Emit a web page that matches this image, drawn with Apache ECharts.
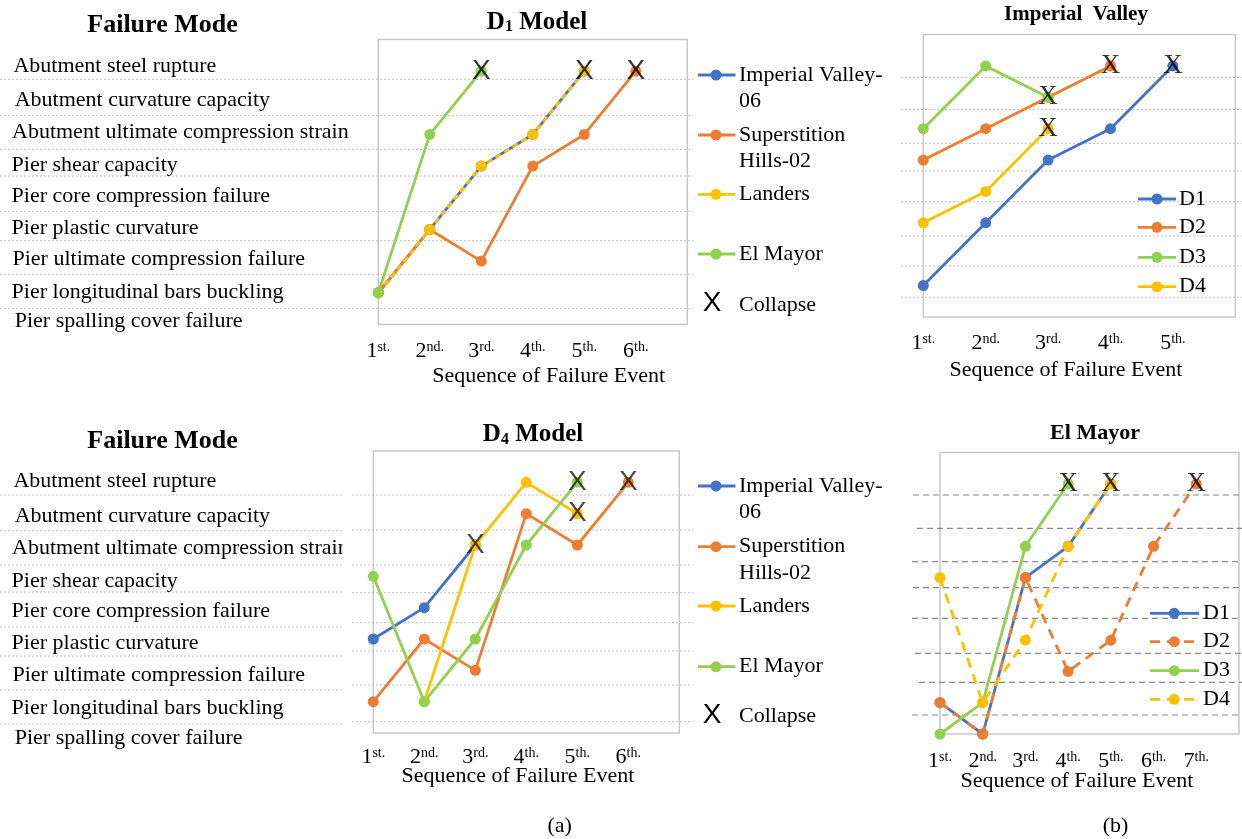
<!DOCTYPE html>
<html><head><meta charset="utf-8">
<script src="https://cdn.jsdelivr.net/npm/echarts@6/dist/echarts.min.js"></script>
<style>html,body{margin:0;padding:0;background:#fff}#c{width:1242px;height:839px}</style>
</head><body><div id="c"></div>
<script>
// ---------------- data ----------------
const failureModes = ['Abutment steel rupture','Abutment curvature capacity','Abutment ultimate compression strain','Pier shear capacity','Pier core compression failure','Pier plastic curvature','Pier ultimate compression failure','Pier longitudinal bars buckling','Pier spalling cover failure'];
const seq7 = ['1st.','2nd.','3rd.','4th.','5th.','6th.',''];
const seq6 = ['1st.','2nd.','3rd.','4th.','5th.',''];
const seq8 = ['1st.','2nd.','3rd.','4th.','5th.','6th.','7th.',''];
const quakeNames = ['Imperial Valley-06','Superstition Hills-02','Landers','El Mayor'];
const modelNames = ['D1','D2','D3','D4'];
// D1 model (level index: 0 = Pier spalling cover failure ... 8 = Abutment steel rupture)
const d1_IV = [1,3,5,6,8,null,null];
const d1_SH = [1,3,2,5,6,8,null];
const d1_LA = [1,3,5,6,8,null,null];
const d1_EM = [1,6,8,null,null,null,null];
const d1_collapse = [[2,8],[4,8],[5,8]];
// D4 model
const d4_IV = [3,4,6,null,null,null,null];
const d4_SH = [1,3,2,7,6,8,null];
const d4_LA = [null,1,6,8,7,null,null];
const d4_EM = [5,1,3,6,8,null,null];
const d4_collapse = [[2,6],[4,8],[4,7],[5,8]];
// Imperial Valley
const iv_D1 = [1,3,5,6,8,null];
const iv_D2 = [5,6,7,8,null,null];
const iv_D3 = [6,8,7,null,null,null];
const iv_D4 = [3,4,6,null,null,null];
const iv_collapse = [[2,7],[2,6],[3,8],[4,8]];
// El Mayor
const em_D1 = [1,0,5,6,8,null,null,null];
const em_D2 = [1,0,5,2,3,6,8,null];
const em_D3 = [0,1,6,8,null,null,null,null];
const em_D4 = [5,1,3,6,8,null,null,null];
const em_collapse = [[3,8],[4,8],[6,8]];

// ---------------- styles ----------------
const FONT = "'Liberation Serif','Times New Roman',serif";
const SANS = "'Liberation Sans',Arial,sans-serif";
const FS = 22;
const C = {blue:'#4472C4', orange:'#ED7D31', yellow:'#FFC000', green:'#92D050'};
const quakeColors = [C.blue, C.orange, C.yellow, C.green];
const modelColors = [C.blue, C.orange, C.green, C.yellow];

const grids = [
  {left:378.3, top:39.5, width:309, height:284.9},   // D1 model
  {left:373.3, top:451, width:306, height:282},      // D4 model
  {left:923.3, top:34.5, width:312, height:282.5},   // Imperial Valley
  {left:940, top:452.5, width:306.6, height:281.5}   // El Mayor
];
const labelMargins = [16, 13, 15, 16];
const cats = [seq7, seq7, seq6, seq8];

function seqFmt(v){ if(!v) return ''; return '{n|'+v[0]+'}{s|'+v.slice(1)+'}'; }

const xAxis = cats.map((c,i)=>({
  type:'category', gridIndex:i, data:c, boundaryGap:false,
  axisLine:{show:false}, axisTick:{show:false}, splitLine:{show:false},
  axisLabel:{interval:0, margin:labelMargins[i], formatter:seqFmt,
    rich:{n:{fontSize:FS, fontFamily:FONT, color:'#000'},
          s:{fontSize:14, fontFamily:FONT, color:'#000', verticalAlign:'top'}}}
}));
const yAxis = grids.map((g,i)=>({type:'value', gridIndex:i, min:0, max:9, show:false}));

function lineSeries(name, data, gi, color, dash){
  return {name, type:'line', xAxisIndex:gi, yAxisIndex:gi, data,
    symbol:'circle', symbolSize:11, showSymbol:true,
    lineStyle:{width:2.8, color, type: dash || 'solid'}, itemStyle:{color},
    connectNulls:false, silent:true};
}
function collapseSeries(data, gi, font, size, color){
  return {name:'Collapse', type:'scatter', xAxisIndex:gi, yAxisIndex:gi, data,
    symbol:'circle', symbolSize:1, itemStyle:{color:'rgba(0,0,0,0)'}, z:10, silent:true,
    label:{show:true, position:'inside', formatter:'X', fontSize:size, fontFamily:font, color}};
}

const series = [
  lineSeries(quakeNames[0], d1_IV, 0, C.blue),
  lineSeries(quakeNames[1], d1_SH, 0, C.orange),
  lineSeries(quakeNames[2], d1_LA, 0, C.yellow, [6,4]),
  lineSeries(quakeNames[3], d1_EM, 0, C.green),
  collapseSeries(d1_collapse, 0, SANS, 28, '#000'),
  lineSeries(quakeNames[0], d4_IV, 1, C.blue),
  lineSeries(quakeNames[1], d4_SH, 1, C.orange),
  lineSeries(quakeNames[2], d4_LA, 1, C.yellow),
  lineSeries(quakeNames[3], d4_EM, 1, C.green),
  collapseSeries(d4_collapse, 1, SANS, 28, '#1a1a1a'),
  lineSeries(modelNames[0], iv_D1, 2, C.blue),
  lineSeries(modelNames[1], iv_D2, 2, C.orange),
  lineSeries(modelNames[2], iv_D3, 2, C.green),
  lineSeries(modelNames[3], iv_D4, 2, C.yellow),
  collapseSeries(iv_collapse, 2, FONT, 27, '#000'),
  lineSeries(modelNames[0], em_D1, 3, C.blue),
  lineSeries(modelNames[1], em_D2, 3, C.orange, [10,7]),
  lineSeries(modelNames[2], em_D3, 3, C.green),
  lineSeries(modelNames[3], em_D4, 3, C.yellow, [10,7]),
  collapseSeries(em_collapse, 3, FONT, 27, '#000')
];

// ---------------- decorations (text, separators, legends) ----------------
const G = [];
function txt(x,y,text,o){
  o = o||{};
  G.push({type:'text', x, y, z:o.z||5, silent:true, style:Object.assign({
    text, fontSize:o.size||FS, fontFamily:o.font||FONT, fontWeight:o.weight||'normal',
    fill:o.color||'#000', align:o.align||'left', verticalAlign:'middle',
    textAlign:o.align||'left', textVerticalAlign:'middle'}, o.rich?{rich:o.rich}:{})});
}
function hline(x1,x2,y,stroke,dash,w){
  G.push({type:'line', z:0, silent:true, shape:{x1,y1:y,x2,y2:y},
    style:{stroke, lineWidth:w||1, lineDash:dash}});
}
// separator lines
const dotCol = '#bdbdbd';
[79.3,115.7,149.3,176,211.7,240.7,274.3,308.3].forEach(y=>hline(0,693,y,dotCol,[2,2]));
[495,530.7,565,592,627,656,690,724].forEach(y=>hline(0,342,y,dotCol,[2,2]));
[495,530,565,592.7,622.7,651,685,721.7].forEach(y=>hline(352,693,y,dotCol,[2,2]));
[77.3,109.3,143.3,171,201.7,236,266,297.3].forEach(y=>hline(901,1242,y,dotCol,[2,2]));
[495,528.3,561.7,587.7,618.3,653.3,682.3,715].forEach((y,i)=>hline([913,917,912,913,912,915,919,912][i],1242,y,'#8a8a8a',[6,4],1.2));

// failure mode labels
const topX = [13.4,14.7,12,11.6,11.6,11.6,12.5,11.6,14.7];
const topY = [66,100,132.7,165,196,228.3,259,292.7,321.7];
const botY = [481.7,516.7,548.3,581.7,611,643.3,675,708.3,738.3];
failureModes.forEach((m,i)=>{ txt(topX[i], topY[i], m); txt(topX[i], botY[i], m); });
// plot-area mask clipping the long label in the lower panel
G.push({type:'rect', z:8, silent:true, shape:{x:342.5, y:533, width:30, height:30}, style:{fill:'#fff'}});

// headings
txt(162.5, 25, 'Failure Mode', {size:26, weight:'bold', align:'center'});
txt(162.5, 441, 'Failure Mode', {size:26, weight:'bold', align:'center'});
const subRich = {b:{fontSize:25, fontWeight:'bold', fontFamily:FONT, color:'#000'},
                 s:{fontSize:16, fontWeight:'bold', fontFamily:FONT, color:'#000', verticalAlign:'bottom'}};
txt(537, 22.7, '{b|D}{s|1}{b| Model}', {align:'center', rich:subRich});
txt(533, 435, '{b|D}{s|4}{b| Model}', {align:'center', rich:subRich});
txt(1076, 15, 'Imperial  Valley', {size:21, weight:'bold', align:'center'});
txt(1095, 433.3, 'El Mayor', {size:22, weight:'bold', align:'center'});
txt(548.7, 376, 'Sequence of Failure Event', {align:'center'});
txt(518, 776.7, 'Sequence of Failure Event', {align:'center'});
txt(1066, 370, 'Sequence of Failure Event', {align:'center'});
txt(1077, 781.7, 'Sequence of Failure Event', {align:'center'});
txt(559.6, 826.7, '(a)', {align:'center'});
txt(1115.5, 826.7, '(b)', {align:'center'});

// legends
function legItem(x1,x2,cx,tx,y,color,label,dash){
  G.push({type:'line', z:6, silent:true, shape:{x1,y1:y,x2,y2:y}, style:{stroke:color, lineWidth:2.8, lineDash:dash}});
  G.push({type:'circle', z:7, silent:true, shape:{cx, cy:y, r:5.5}, style:{fill:color}});
  const lines = label.split('\n');
  lines.forEach((l,k)=>txt(tx, y+k*26.5, l));
}
const quakeLegendLabels = ['Imperial Valley-\n06','Superstition\nHills-02','Landers','El Mayor'];
[[75,135,194.3,254,305],[486,546.7,606,666.7,716.7]].forEach(ys=>{
  quakeLegendLabels.forEach((l,i)=>legItem(698,735.5,716,739,ys[i],quakeColors[i],l));
  txt(712, ys[4]-1.5, 'X', {size:28, font:SANS, align:'center'});
  txt(739, ys[4], 'Collapse');
});
[199,227.3,257.3,286.7].forEach((y,i)=>legItem(1138,1176,1157,1179,y,modelColors[i],modelNames[i]));
[613.3,641.7,670.7,699.3].forEach((y,i)=>legItem(1150,1199,1174.3,1203,y,modelColors[i],modelNames[i], (i===1||i===3)?[10,7]:null));

const chart = echarts.init(document.getElementById('c'), null, {renderer:'canvas'});
chart.setOption({
  animation:false,
  backgroundColor:'#fff',
  grid: grids.map(g=>Object.assign({show:true, borderColor:'#c8c8c8', borderWidth:1.5, backgroundColor:'transparent'}, g)),
  xAxis, yAxis, series,
  graphic:{elements:G}
});
</script></body></html>
